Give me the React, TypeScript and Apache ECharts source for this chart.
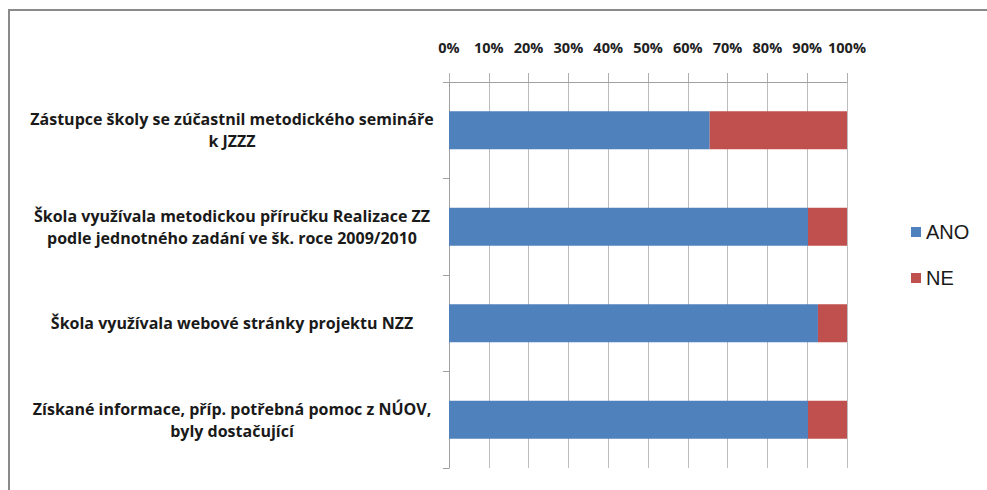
import React, { useEffect, useRef } from "react";
import * as echarts from "echarts";

const categories = [
  "Zástupce školy se zúčastnil metodického semináře\nk JZZZ",
  "Škola využívala metodickou příručku Realizace ZZ\npodle jednotného zadání ve šk. roce 2009/2010",
  "Škola využívala webové stránky projektu NZZ",
  "Získané informace, příp. potřebná pomoc z NÚOV,\nbyly dostačující",
];
const anoValues = [65.5, 90.2, 92.7, 90.2];
const neValues = [34.5, 9.8, 7.3, 9.8];
const seriesNames = ["ANO", "NE"];

export default function App() {
  const ref = useRef<HTMLDivElement>(null);
  useEffect(() => {
    if (!ref.current) return;
    const chart = echarts.init(ref.current, null, { renderer: "svg" });
    chart.setOption({
      animation: false,
      backgroundColor: "#ffffff",
      graphic: [
        {
          type: "rect",
          shape: { x: 9, y: 10, width: 1000, height: 500 },
          style: { fill: "none", stroke: "#8a8a8a", lineWidth: 2 },
          silent: true,
        },
      ],
      legend: {
        orient: "vertical",
        left: 906,
        top: 217,
        itemWidth: 10,
        itemHeight: 10,
        itemGap: 26,
        icon: "rect",
        textStyle: { fontFamily: "Liberation Sans", fontSize: 20, color: "#1a1a1a", padding: [0, 0, 0, 0] },
        data: seriesNames,
      },
      grid: { left: 449, right: 140, top: 82, bottom: 22, containLabel: false },
      xAxis: {
        type: "value",
        position: "top",
        min: 0,
        max: 100,
        interval: 10,
        axisLine: { show: true, lineStyle: { color: "#a0a0a0", width: 1 } },
        axisTick: { show: true, length: 9, lineStyle: { color: "#b0b0b0" } },
        splitLine: { show: true, lineStyle: { color: "#bdbdbd", width: 1 } },
        axisLabel: {
          formatter: "{value}%",
          margin: 27,
          fontFamily: "Open Sans",
          fontWeight: "bold",
          fontSize: 14.5,
          color: "#222222",
        },
      },
      yAxis: {
        type: "category",
        inverse: true,
        data: categories,
        axisLine: { show: true, lineStyle: { color: "#a0a0a0" } },
        axisTick: { show: true, length: 6, lineStyle: { color: "#a0a0a0" } },
        axisLabel: {
          align: "center",
          margin: 217,
          fontFamily: "Open Sans",
          fontWeight: "bold",
          fontSize: 16,
          lineHeight: 22,
          color: "#1a1a1a",
        },
      },
      series: [
        {
          name: seriesNames[0],
          type: "bar",
          stack: "total",
          barWidth: 38,
          data: anoValues,
          itemStyle: { color: "#4f81bd" },
        },
        {
          name: seriesNames[1],
          type: "bar",
          stack: "total",
          barWidth: 38,
          data: neValues,
          itemStyle: { color: "#c0504d" },
        },
      ],
    });
    return () => chart.dispose();
  }, []);
  return (
    <div
      ref={ref}
      style={{ position: "fixed", left: 0, top: 0, width: 987, height: 490 }}
    />
  );
}
